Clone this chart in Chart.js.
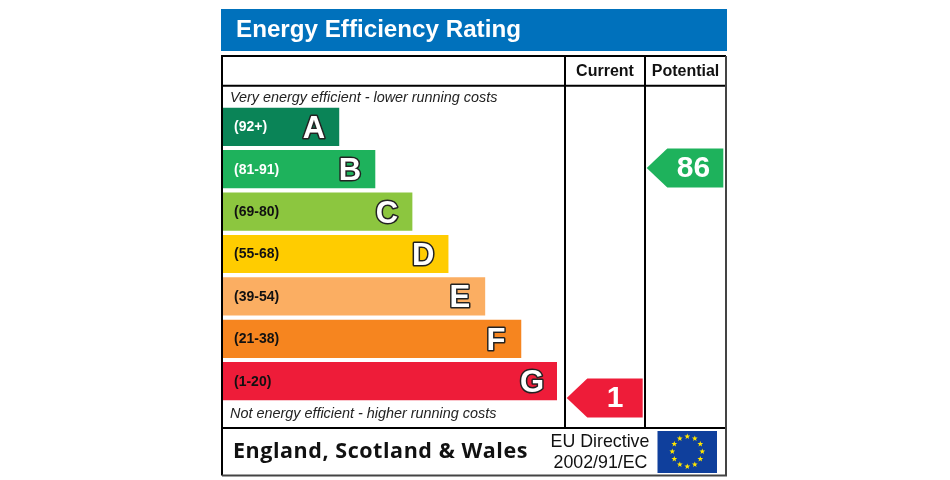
<!DOCTYPE html>
<html>
<head>
<meta charset="utf-8">
<title>Energy Efficiency Rating</title>
<style>
  html, body { margin: 0; padding: 0; background: #fff; }
  canvas { display: block; }
</style>
<script src="https://cdn.jsdelivr.net/npm/chart.js@4/dist/chart.umd.js"></script>
</head>
<body>
<canvas id="chart" width="950" height="480"></canvas>
<script>
// data
const bandLetters = ['A', 'B', 'C', 'D', 'E', 'F', 'G'];
const bandRanges = ['(92+)', '(81-91)', '(69-80)', '(55-68)', '(39-54)', '(21-38)', '(1-20)'];
const bandLengths = [34.7, 45.5, 56.6, 67.4, 78.4, 89.2, 100];
const columnNames = ['Current', 'Potential'];
const columnRatings = [1, 86];

const chartTitle = 'Energy Efficiency Rating';
const topNote = 'Very energy efficient - lower running costs';
const bottomNote = 'Not energy efficient - higher running costs';
const regionText = 'England, Scotland & Wales';
const directiveLines = ['EU Directive', '2002/91/EC'];

const bandColors = ['#0a8457', '#1eb25c', '#8cc63f', '#ffcc00', '#fbae62', '#f6851f', '#ee1c39'];
const rangeColors = ['#fff', '#fff', '#111', '#111', '#111', '#111', '#111'];
const arrowColors = ['#ee1c39', '#1eb25c'];

const SANS = '"Liberation Sans", Arial, sans-serif';

// pixel layout of the frame around the plot
const frame = { left: 222, right: 726, top: 56, head: 85.7, foot: 428, bottom: 475.5, colA: 565, colB: 645 };
const arrowBoxes = [
  { tip: 566.7, notch: 587.3, right: 642.7, textX: 615, headX: 605 },
  { tip: 646.7, notch: 667.3, right: 723.3, textX: 693.5, headX: 685.5 }
];

function text(ctx, str, x, y, font, color, align) {
  ctx.font = font;
  ctx.fillStyle = color;
  ctx.textAlign = align || 'left';
  ctx.textBaseline = 'middle';
  ctx.fillText(str, x, y);
}

function drawStar(ctx, cx, cy, r) {
  ctx.beginPath();
  for (let i = 0; i < 10; i++) {
    const rad = i % 2 ? r * 0.42 : r;
    const a = -Math.PI / 2 + i * Math.PI / 5;
    ctx.lineTo(cx + rad * Math.cos(a), cy + rad * Math.sin(a));
  }
  ctx.closePath();
  ctx.fill();
}

const epcFrame = {
  id: 'epcFrame',
  beforeDraw(chart) {
    const ctx = chart.ctx;
    ctx.save();
    ctx.fillStyle = '#fff';
    ctx.fillRect(0, 0, 950, 480);
    // title band
    ctx.fillStyle = '#0071bc';
    ctx.fillRect(221, 9, 506, 42);
    text(ctx, chartTitle, 236, 30, 'bold 24.2px ' + SANS, '#fff');

    // table lines, right and bottom edges are a bit softer in the original
    ctx.strokeStyle = '#000';
    ctx.lineWidth = 2;
    ctx.beginPath();
    ctx.moveTo(frame.left, frame.bottom); ctx.lineTo(frame.left, frame.top); ctx.lineTo(frame.right, frame.top);
    ctx.moveTo(frame.left, frame.head); ctx.lineTo(frame.right, frame.head);
    ctx.moveTo(frame.left, frame.foot); ctx.lineTo(frame.right, frame.foot);
    ctx.moveTo(frame.colA, frame.top); ctx.lineTo(frame.colA, frame.foot);
    ctx.moveTo(frame.colB, frame.top); ctx.lineTo(frame.colB, frame.foot);
    ctx.stroke();
    ctx.strokeStyle = '#444';
    ctx.beginPath();
    ctx.moveTo(frame.right, frame.top); ctx.lineTo(frame.right, frame.bottom); ctx.lineTo(frame.left, frame.bottom);
    ctx.stroke();

    // column heads
    columnNames.forEach((name, i) => {
      text(ctx, name, arrowBoxes[i].headX, 71.5, 'bold 16px ' + SANS, '#111', 'center');
    });

    // notes
    text(ctx, topNote, 230, 98, 'italic 14.4px ' + SANS, '#222');
    text(ctx, bottomNote, 230, 413.5, 'italic 14.4px ' + SANS, '#222');

    // footer
    ctx.letterSpacing = '0.55px';
    text(ctx, regionText, 233, 452, 'bold 21.5px "Open Sans", sans-serif', '#111');
    ctx.letterSpacing = '0px';
    text(ctx, directiveLines[0], 600, 442, '17.8px ' + SANS, '#111', 'center');
    text(ctx, directiveLines[1], 600.5, 463, '17.8px ' + SANS, '#111', 'center');

    // EU flag
    ctx.fillStyle = '#0f3f9c';
    ctx.fillRect(657.5, 431, 59.5, 42);
    ctx.fillStyle = '#ffe600';
    for (let i = 0; i < 12; i++) {
      const a = i * Math.PI / 6;
      drawStar(ctx, 687.3 + 15 * Math.sin(a), 451.5 - 15 * Math.cos(a), 3);
    }
    ctx.restore();
  },
  afterDatasetsDraw(chart) {
    const ctx = chart.ctx;
    const xs = chart.scales.x;
    const ys = chart.scales.y;
    const rating = chart.scales.yRating;
    ctx.save();

    // labels inside the bars
    bandLetters.forEach((letter, i) => {
      const y = ys.getPixelForValue(i);
      text(ctx, bandRanges[i], 234, y + 0.5, 'bold 14px ' + SANS, rangeColors[i]);
      ctx.font = 'bold 31px ' + SANS;
      ctx.textAlign = 'center';
      ctx.textBaseline = 'middle';
      ctx.lineJoin = 'round';
      ctx.lineWidth = 3;
      ctx.strokeStyle = '#222';
      const lx = xs.getPixelForValue(bandLengths[i]) - 25;
      ctx.strokeText(letter, lx, y + 2.5);
      ctx.fillStyle = '#fff';
      ctx.fillText(letter, lx, y + 2.5);
    });

    // rating arrows, placed on the hidden rating scale
    columnRatings.forEach((value, i) => {
      const box = arrowBoxes[i];
      const y = rating.getPixelForValue(value);
      ctx.fillStyle = arrowColors[i];
      ctx.beginPath();
      ctx.moveTo(box.tip, y);
      ctx.lineTo(box.notch, y - 19.5);
      ctx.lineTo(box.right, y - 19.5);
      ctx.lineTo(box.right, y + 19.5);
      ctx.lineTo(box.notch, y + 19.5);
      ctx.closePath();
      ctx.fill();
      text(ctx, String(value), box.textX, y + 1, 'bold 30px ' + SANS, '#fff', 'center');
    });
    ctx.restore();
  }
};

new Chart(document.getElementById('chart'), {
  type: 'bar',
  data: {
    labels: bandLetters,
    datasets: [{
      data: bandLengths,
      backgroundColor: bandColors,
      barThickness: 37.5,
      borderWidth: 0
    }]
  },
  options: {
    indexAxis: 'y',
    responsive: false,
    animation: false,
    events: [],
    layout: { padding: { left: 223, right: 393, top: 105.6, bottom: 77.6 } },
    plugins: { legend: { display: false }, tooltip: { enabled: false }, title: { display: false } },
    scales: {
      x: { type: 'linear', min: 0, max: 100, display: false },
      y: { type: 'category', display: false },
      yRating: { type: 'linear', axis: 'y', min: -0.63, max: 109.05, offset: false, display: false }
    }
  },
  plugins: [epcFrame]
});
</script>
</body>
</html>
